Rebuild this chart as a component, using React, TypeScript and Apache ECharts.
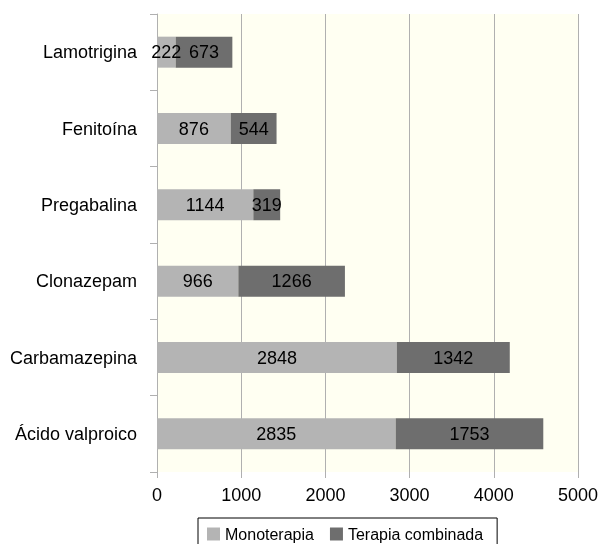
import React, { useEffect, useRef } from "react";
import * as echarts from "echarts";

const categories = ["Lamotrigina", "Fenitoína", "Pregabalina", "Clonazepam", "Carbamazepina", "Ácido valproico"];
const monoterapia = [222, 876, 1144, 966, 2848, 2835];
const terapiaCombinada = [673, 544, 319, 1266, 1342, 1753];
const seriesNames = ["Monoterapia", "Terapia combinada"];

const FONT = "'Liberation Sans', Arial, Helvetica, sans-serif";

export default function App() {
  const ref = useRef<HTMLDivElement>(null);
  useEffect(() => {
    if (!ref.current) return;
    const chart = echarts.init(ref.current, undefined, { renderer: "svg" });
    const labelCfg = {
      show: true,
      position: "inside" as const,
      color: "#000",
      fontSize: 18,
      fontFamily: FONT,
    };
    chart.setOption({
      animation: false,
      textStyle: { fontFamily: FONT },
      grid: {
        left: 157,
        right: 23,
        top: 14,
        bottom: 72,
        show: true,
        backgroundColor: "#FFFFF2",
        borderWidth: 0,
      },
      legend: {
        left: 198,
        top: 518,
        orient: "horizontal",
        borderColor: "#000",
        borderWidth: 1,
        padding: [8, 14, 8, 9],
        itemGap: 16,
        itemWidth: 13,
        itemHeight: 13,
        icon: "rect",
        textStyle: { fontSize: 16, color: "#000", fontFamily: FONT },
        data: seriesNames,
      },
      xAxis: {
        type: "value",
        min: 0,
        max: 5000,
        interval: 1000,
        axisLine: { show: false },
        axisTick: { show: true, length: 6, lineStyle: { color: "#B0B0B0" } },
        splitLine: { show: true, lineStyle: { color: "#B0B0B0", width: 1 } },
        axisLabel: {
          color: "#000",
          fontSize: 18,
          margin: 14,
          fontFamily: FONT,
          formatter: (v: number) => String(v),
        },
      },
      yAxis: {
        type: "category",
        inverse: true,
        data: categories,
        axisLine: { show: true, lineStyle: { color: "#B0B0B0" } },
        axisTick: { show: true, length: 7, alignWithLabel: false, lineStyle: { color: "#B0B0B0" } },
        axisLabel: { color: "#000", fontSize: 18, margin: 20, fontFamily: FONT },
      },
      series: [
        {
          name: seriesNames[0],
          type: "bar",
          stack: "total",
          data: monoterapia,
          barWidth: 31,
          itemStyle: { color: "#B4B4B4" },
          label: labelCfg,
        },
        {
          name: seriesNames[1],
          type: "bar",
          stack: "total",
          data: terapiaCombinada,
          barWidth: 31,
          itemStyle: { color: "#6E6E6E" },
          label: labelCfg,
        },
      ],
    });
    return () => chart.dispose();
  }, []);
  return (
    <div
      ref={ref}
      style={{ position: "fixed", left: 0, top: 0, width: 601, height: 544 }}
    />
  );
}
